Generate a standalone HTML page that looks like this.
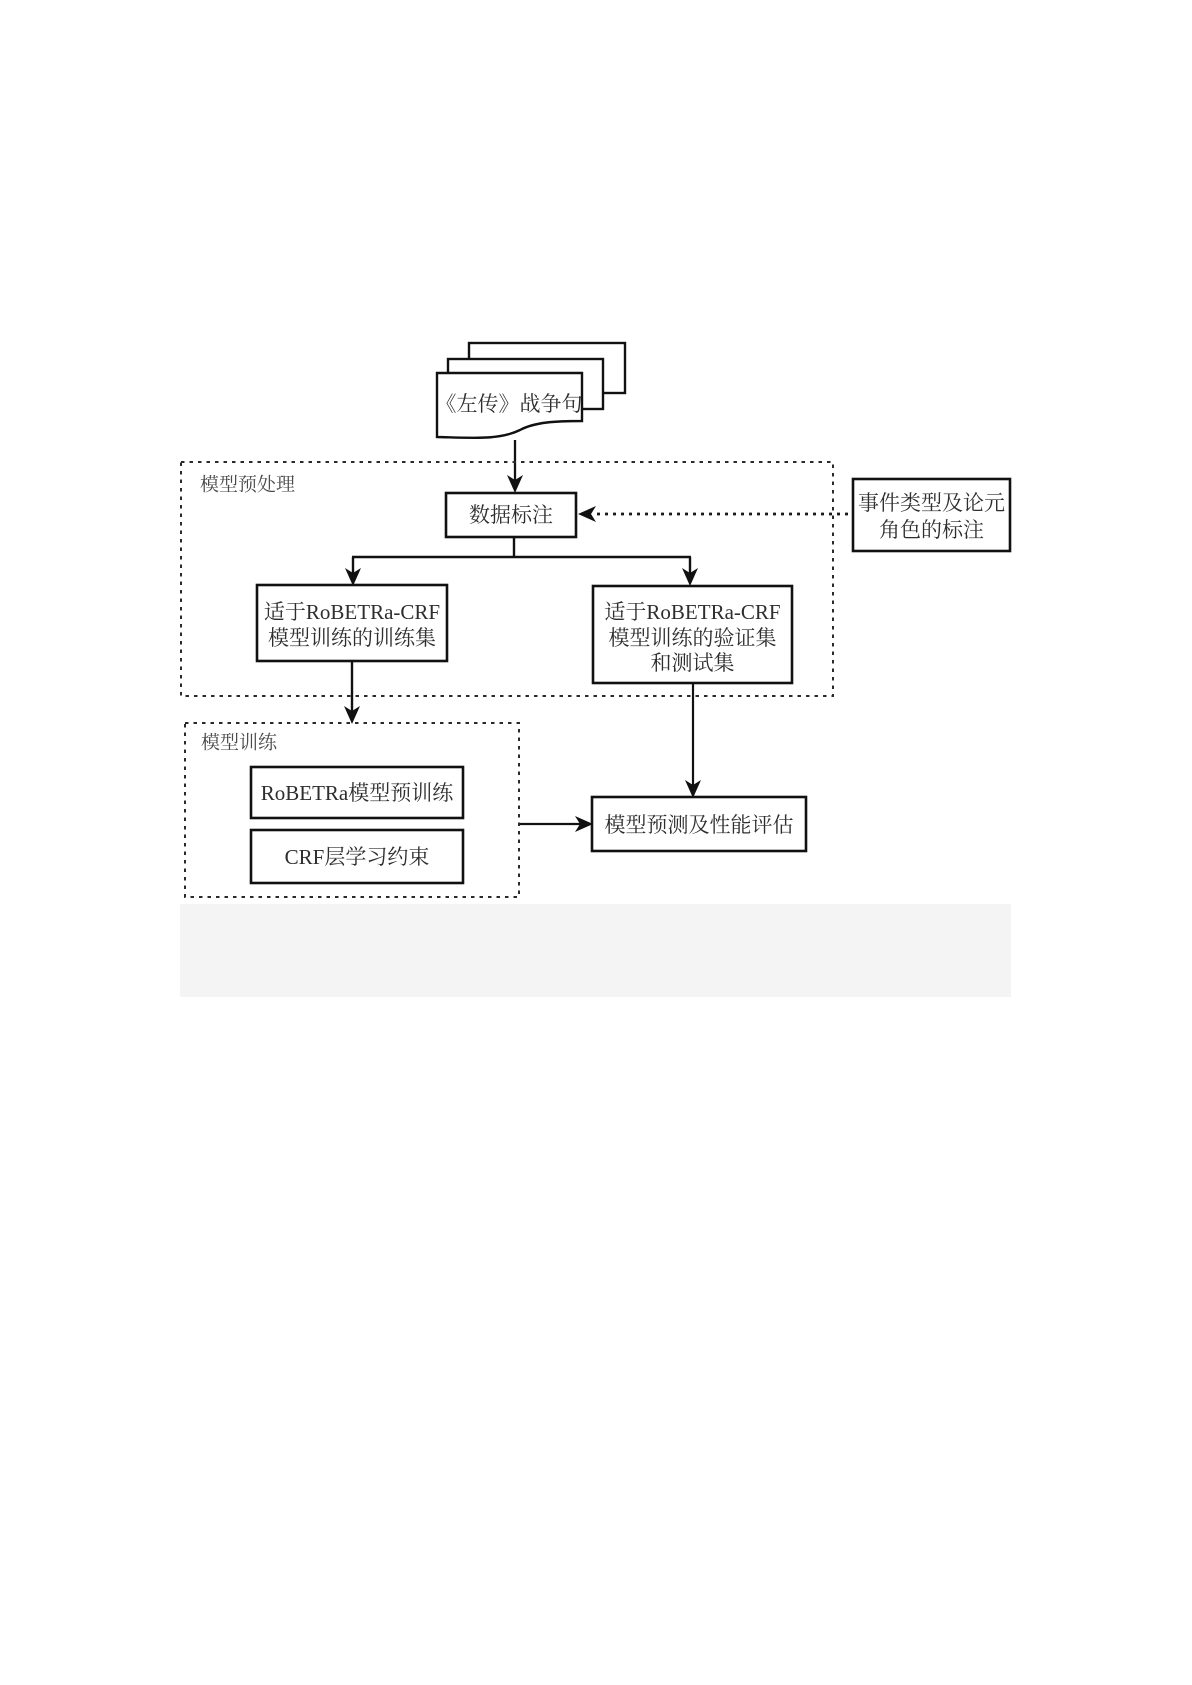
<!DOCTYPE html>
<html>
<head>
<meta charset="utf-8">
<style>
html,body{margin:0;padding:0;background:#fff;}
svg{display:block;}
text{font-family:"Liberation Serif","Noto Serif CJK SC",serif;fill:#2e2e2e;}
</style>
</head>
<body>
<svg width="1192" height="1685" viewBox="0 0 1192 1685" xmlns="http://www.w3.org/2000/svg">
<rect x="0" y="0" width="1192" height="1685" fill="#fff"/>

<!-- stacked documents -->
<rect x="469" y="343" width="156" height="50" fill="#fff" stroke="#111" stroke-width="2.4"/>
<rect x="448" y="359" width="155" height="50" fill="#fff" stroke="#111" stroke-width="2.4"/>
<path d="M437,373 L582,373 L582,421 C556,421 535,422 520,430 C500,440 475,438 437,437 Z" fill="#fff" stroke="#111" stroke-width="2.4"/>
<text x="509" y="404" font-size="21" text-anchor="middle" dominant-baseline="central">《左传》战争句</text>

<!-- arrow doc -> 数据标注 -->
<line x1="515" y1="440" x2="515" y2="482" stroke="#111" stroke-width="2.3"/>
<path d="M515,493 L507,475 L515,480 L523,475 Z" fill="#111"/>

<!-- 模型预处理 dashed box -->
<rect x="181" y="462" width="652" height="234" fill="none" stroke="#2a2a2a" stroke-width="2" stroke-dasharray="3.5 5"/>
<text x="200" y="485" font-size="19" dominant-baseline="central" style="fill:#4a4a4a">模型预处理</text>

<!-- 数据标注 -->
<rect x="446" y="493" width="130" height="44" fill="#fff" stroke="#111" stroke-width="2.6"/>
<text x="511" y="515" font-size="21" text-anchor="middle" dominant-baseline="central">数据标注</text>

<!-- dotted arrow from 事件 box -->
<line x1="597" y1="514" x2="850" y2="514" stroke="#1a1a1a" stroke-width="2.8" stroke-dasharray="3 5"/>
<path d="M578,514 L596,506 L591,514 L596,522 Z" fill="#111"/>

<!-- 事件类型 box -->
<rect x="853" y="479" width="157" height="72" fill="#fff" stroke="#111" stroke-width="2.6"/>
<text x="931.5" y="503" font-size="21" text-anchor="middle" dominant-baseline="central">事件类型及论元</text>
<text x="931.5" y="530" font-size="21" text-anchor="middle" dominant-baseline="central">角色的标注</text>

<!-- split -->
<line x1="514" y1="537" x2="514" y2="557" stroke="#111" stroke-width="2.4"/>
<line x1="352" y1="557" x2="691" y2="557" stroke="#111" stroke-width="2.4"/>
<line x1="353" y1="557" x2="353" y2="575" stroke="#111" stroke-width="2.4"/>
<line x1="690" y1="557" x2="690" y2="575" stroke="#111" stroke-width="2.4"/>
<path d="M353,586 L345,568 L353,573 L361,568 Z" fill="#111"/>
<path d="M690,586 L682,568 L690,573 L698,568 Z" fill="#111"/>

<!-- left box -->
<rect x="257" y="585" width="190" height="76" fill="#fff" stroke="#111" stroke-width="2.6"/>
<text x="352" y="612" font-size="21" text-anchor="middle" dominant-baseline="central">适于RoBETRa-CRF</text>
<text x="352" y="638" font-size="21" text-anchor="middle" dominant-baseline="central">模型训练的训练集</text>

<!-- right box -->
<rect x="593" y="586" width="199" height="97" fill="#fff" stroke="#111" stroke-width="2.6"/>
<text x="692.5" y="612" font-size="21" text-anchor="middle" dominant-baseline="central">适于RoBETRa-CRF</text>
<text x="692.5" y="638" font-size="21" text-anchor="middle" dominant-baseline="central">模型训练的验证集</text>
<text x="692.5" y="663" font-size="21" text-anchor="middle" dominant-baseline="central">和测试集</text>

<!-- arrow left box -> 模型训练 -->
<line x1="352" y1="661" x2="352" y2="712" stroke="#111" stroke-width="2.4"/>
<path d="M352,724 L344,706 L352,711 L360,706 Z" fill="#111"/>

<!-- 模型训练 dashed box -->
<rect x="185" y="723" width="334" height="174" fill="none" stroke="#2a2a2a" stroke-width="2" stroke-dasharray="3.5 5"/>
<text x="201" y="743" font-size="19" dominant-baseline="central" style="fill:#4a4a4a">模型训练</text>

<rect x="251" y="767" width="212" height="51" fill="#fff" stroke="#111" stroke-width="2.6"/>
<text x="357" y="793" font-size="21" text-anchor="middle" dominant-baseline="central">RoBETRa模型预训练</text>
<rect x="251" y="830" width="212" height="53" fill="#fff" stroke="#111" stroke-width="2.6"/>
<text x="357" y="857" font-size="21" text-anchor="middle" dominant-baseline="central">CRF层学习约束</text>

<!-- right vertical arrow -->
<line x1="693" y1="683" x2="693" y2="786" stroke="#111" stroke-width="2.2"/>
<path d="M693,798 L685,780 L693,785 L701,780 Z" fill="#111"/>

<!-- horizontal arrow -->
<line x1="520" y1="824" x2="581" y2="824" stroke="#111" stroke-width="2.2"/>
<path d="M593,824 L575,816 L580,824 L575,832 Z" fill="#111"/>

<!-- 模型预测 box -->
<rect x="592" y="797" width="214" height="54" fill="#fff" stroke="#111" stroke-width="2.6"/>
<text x="699" y="825" font-size="21" text-anchor="middle" dominant-baseline="central">模型预测及性能评估</text>

<!-- gray band -->
<rect x="180" y="904" width="831" height="93" fill="#f4f4f4"/>
</svg>
</body>
</html>
